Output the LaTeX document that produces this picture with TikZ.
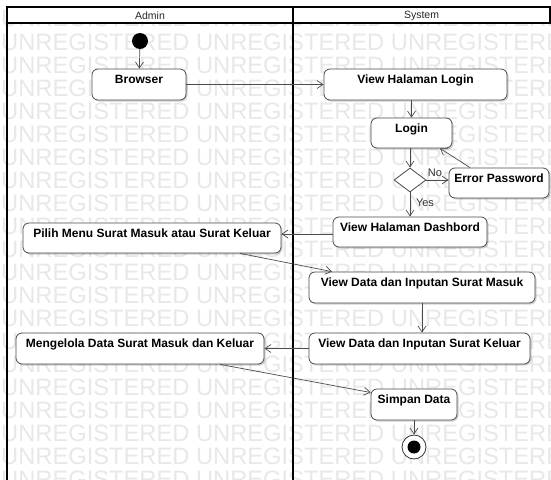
\documentclass[tikz,border=0pt]{standalone}
\usepackage{fontspec}
\setmainfont{Liberation Sans}
\newfontfamily\wmfont{Liberation Sans}
\usetikzlibrary{arrows.meta,shapes.geometric,shadows}

% activity text sits slightly above the middle of its box
\newcommand\actlbl[1]{\raisebox{1pt}[0pt][0pt]{#1}}

\tikzset{
  act/.style={draw=black!70, line width=0.8pt, fill=white, rounded corners=6pt,
    inner sep=0pt, minimum height=31pt,
    font=\fontsize{12}{14}\selectfont\bfseries,
    drop shadow={shadow xshift=1.5pt, shadow yshift=-1.5pt, opacity=0.18, fill=black}},
  decision/.style={diamond, draw=black!70, line width=0.8pt, fill=white,
    minimum width=32pt, minimum height=24pt, inner sep=0pt},
  initial/.style={circle, fill=black, minimum size=16pt, inner sep=0pt},
  final/.style={circle, draw=black!80, line width=0.8pt, fill=white, minimum size=24pt, inner sep=0pt,
    path picture={\fill[black] (path picture bounding box.center) circle (6.5pt);}},
  flow/.style={draw=black!70, line width=0.7pt, -{Straight Barb[length=6pt,width=8pt]}},
  guard/.style={font=\fontsize{11}{13}\selectfont, text=black!80, inner sep=0pt},
  lane/.style={line width=1.3pt, draw=black},
  lanehead/.style={font=\fontsize{10.5}{12}\selectfont, text=black!85, inner sep=0pt},
  watermark/.style={font=\wmfont\fontsize{23.7}{24}\selectfont, text=black!9,
    anchor=base west, inner sep=0pt},
}

\begin{document}
\begin{tikzpicture}[x=1pt,y=-1pt]
\useasboundingbox (0,0) rectangle (551,479);
\fill[white] (0,0) rectangle (551,479);

% background watermark rows
\begin{scope}
  \clip (0,0) rectangle (551,479);
  \foreach \k in {-1,...,19} {
    \node[watermark] (wm\k) at (1,{50+23*\k}) {UNREGISTERED UNREGISTERED UNREGISTERED};
  }
\end{scope}

% swimlanes
\draw[lane, fill=white] (7,7) rectangle (550,23);
\draw[lane] (7,23) -- (7,480);
\draw[lane] (293,7) -- (293,480);
\node[lanehead] (hAdmin) at (150,15.5) {Admin};
\node[lanehead] (hSystem) at (421.5,15.5) {System};

% activities
\node[initial] (start) at (140,41) {};
\node[act, minimum width=94pt] (browser) at (139,84.5) {\actlbl{Browser}};
\node[act, minimum width=183pt] (vlogin) at (415.5,84.5) {\actlbl{View Halaman Login}};
\node[act, minimum width=81pt, minimum height=30pt] (login) at (411.5,133) {\actlbl{Login}};
\node[decision] (dec) at (410,180) {};
\node[act, minimum width=100pt, minimum height=30pt] (err) at (499,183) {\actlbl{Error Password}};
\node[act, minimum width=154pt, minimum height=30pt] (dash) at (410,232) {\actlbl{View Halaman Dashbord}};
\node[act, minimum width=258pt, minimum height=30pt] (pilih) at (152,238) {\actlbl{Pilih Menu Surat Masuk atau Surat Keluar}};
\node[act, minimum width=226pt] (masuk) at (422,287.5) {\actlbl{View Data dan Inputan Surat Masuk}};
\node[act, minimum width=221pt] (keluar) at (419.5,348.5) {\actlbl{View Data dan Inputan Surat Keluar}};
\node[act, minimum width=248pt] (kelola) at (140,348.5) {\actlbl{Mengelola Data Surat Masuk dan Keluar}};
\node[act, minimum width=86pt] (simpan) at (414,404.5) {\actlbl{Simpan Data}};
\node[final] (end) at (414,447) {};

% guards
\node[guard] (no) at (435,173) {No};
\node[guard] (yes) at (425,203) {Yes};

% control flow
\draw[flow] (start) -- (browser);
\draw[flow] (browser) -- (vlogin);
\draw[flow] (login.north |- vlogin.south) -- (login.north);
\draw[flow] (dec.north |- login.south) -- (dec.north);
\draw[flow] (dec.east) -- (dec.east -| err.west);
\draw[flow] ([xshift=-29pt]err.north) -- ([xshift=28.5pt]login.south);
\draw[flow] (dec.south) -- (dec.south |- dash.north);
\draw[flow] ([yshift=-2pt]dash.west) -- ([yshift=-2pt]dash.west -| pilih.east);
\draw[flow] ([xshift=88pt]pilih.south) -- ([xshift=-90pt]masuk.north);
\draw[flow] (masuk.south) -- (masuk.south |- keluar.north);
\draw[flow] (keluar.west) -- (kelola.east);
\draw[flow] ([xshift=80pt]kelola.south) -- ([yshift=12pt]simpan.west);
\draw[flow] (simpan.south) -- (end.north);
\end{tikzpicture}
\end{document}
